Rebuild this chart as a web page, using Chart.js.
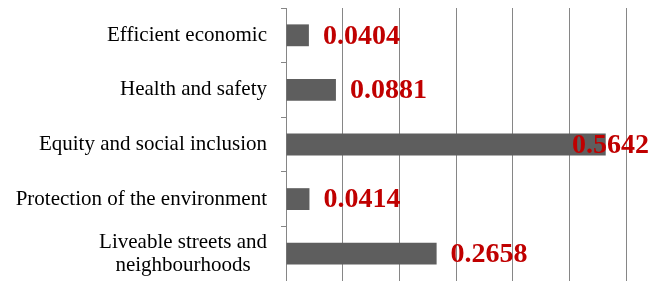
<!DOCTYPE html>
<html lang="en">
<head>
    <meta charset="UTF-8">
    <title>Weights</title>
    <style>
        body {
            margin: 0;
            padding: 0;
            background: #ffffff;
        }

        .chart-container {
            width: 649px;
            height: 281px;
            position: relative;
        }
    </style>
    <script src="https://cdn.jsdelivr.net/npm/chart.js"></script>
</head>
<body>
    <div class="chart-container">
        <canvas id="myChart"></canvas>
    </div>
    <script>
        // Données du graphe
        const categories = [
            'Efficient economic',
            'Health and safety',
            'Equity and social inclusion',
            'Protection of the environment',
            ['Liveable streets and', 'neighbourhoods']
        ];
        const values = [0.0404, 0.0881, 0.5642, 0.0414, 0.2658];
        const valueLabels = ['0.0404', '0.0881', '0.5642', '0.0414', '0.2658'];
        const xTicks = [0, 0.1, 0.2, 0.3, 0.4, 0.5, 0.6];

        const serif = '"Liberation Serif", "Times New Roman", serif';

        // Étiquettes des catégories (lignes centrées, bloc aligné à droite)
        const categoryLabels = {
            id: 'categoryLabels',
            afterDraw(chart) {
                const ctx = chart.ctx;
                const yScale = chart.scales.y;
                const right = yScale.right - 19;
                ctx.save();
                ctx.font = '21px ' + serif;
                ctx.fillStyle = '#000000';
                ctx.textBaseline = 'middle';
                ctx.textAlign = 'center';
                chart.data.labels.forEach((label, i) => {
                    const lines = Array.isArray(label) ? label : [label];
                    const maxW = Math.max(...lines.map(l => ctx.measureText(l).width));
                    const cx = right - maxW / 2;
                    const y = yScale.getPixelForTick(i);
                    const lh = 23;
                    const y0 = y - (lines.length - 1) * lh / 2;
                    lines.forEach((l, j) => ctx.fillText(l, cx, y0 + j * lh));
                });
                ctx.restore();
            }
        };

        // Valeurs en rouge à droite des barres
        const valueLabelsPlugin = {
            id: 'valueLabels',
            afterDatasetsDraw(chart) {
                const ctx = chart.ctx;
                const meta = chart.getDatasetMeta(0);
                ctx.save();
                ctx.font = 'bold 28px ' + serif;
                ctx.fillStyle = '#C00000';
                ctx.textBaseline = 'middle';
                ctx.textAlign = 'left';
                meta.data.forEach((bar, i) => {
                    const txt = valueLabels[i];
                    const w = ctx.measureText(txt).width;
                    let x = bar.x + 14;
                    if (x + w > chart.width) x = chart.width - w;
                    ctx.fillText(txt, x, bar.y + 1);
                });
                ctx.restore();
            }
        };

        const ctx = document.getElementById('myChart').getContext('2d');
        const myChart = new Chart(ctx, {
            type: 'bar',
            data: {
                labels: categories,
                datasets: [{
                    data: values,
                    backgroundColor: '#5e5e5e',
                    borderWidth: 0,
                    categoryPercentage: 1,
                    barPercentage: 0.4
                }]
            },
            options: {
                indexAxis: 'y',
                responsive: true,
                maintainAspectRatio: false,
                animation: false,
                layout: {
                    padding: { top: 8, right: 23, bottom: 0, left: 0 }
                },
                plugins: {
                    legend: { display: false },
                    tooltip: { enabled: false }
                },
                scales: {
                    x: {
                        min: xTicks[0],
                        max: xTicks[xTicks.length - 1],
                        afterBuildTicks(scale) {
                            scale.ticks = xTicks.map(v => ({ value: v }));
                        },
                        ticks: { display: false },
                        grid: {
                            color: '#868686',
                            lineWidth: 1,
                            drawTicks: false
                        },
                        border: { display: false }
                    },
                    y: {
                        ticks: { display: false },
                        grid: {
                            offset: true,
                            drawOnChartArea: false,
                            drawTicks: true,
                            tickLength: 5,
                            color: '#868686'
                        },
                        border: { display: true, color: '#868686', width: 1 },
                        afterFit(scale) {
                            scale.width = 286;
                        }
                    }
                }
            },
            plugins: [categoryLabels, valueLabelsPlugin]
        });
    </script>
</body>
</html>
